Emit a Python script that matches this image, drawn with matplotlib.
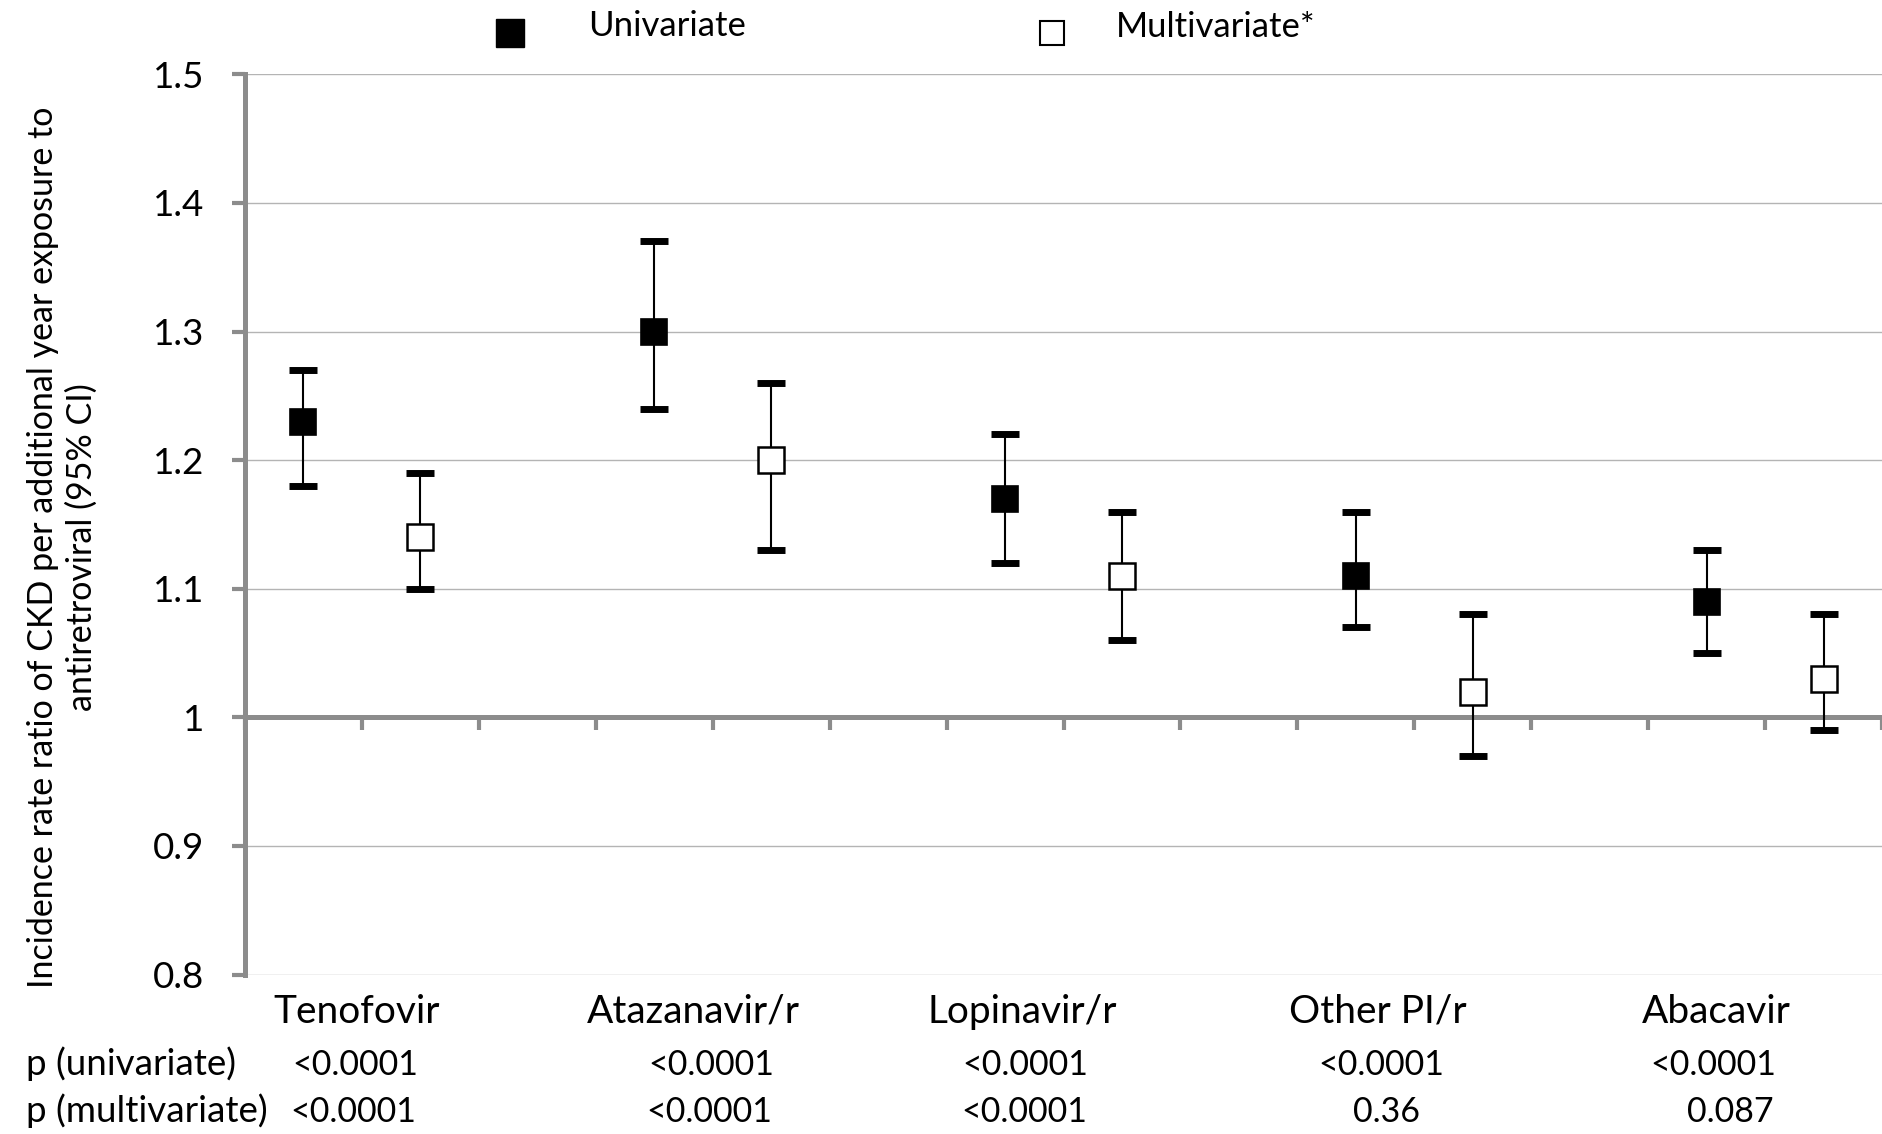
import numpy as np
import matplotlib
matplotlib.use("Agg")
import matplotlib.pyplot as plt
from matplotlib.lines import Line2D
import matplotlib.transforms as mtransforms

plt.rcParams['font.family'] = ['Lato', 'DejaVu Sans']

# ---------------- data ----------------
drugs = ["Tenofovir", "Atazanavir/r", "Lopinavir/r", "Other PI/r", "Abacavir"]
uni_irr = [1.23, 1.30, 1.17, 1.11, 1.09]
uni_lo = [1.18, 1.24, 1.12, 1.07, 1.05]
uni_hi = [1.27, 1.37, 1.22, 1.16, 1.13]
multi_irr = [1.14, 1.20, 1.11, 1.02, 1.03]
multi_lo = [1.10, 1.13, 1.06, 0.97, 0.99]
multi_hi = [1.19, 1.26, 1.16, 1.08, 1.08]
p_uni = ["<0.0001", "<0.0001", "<0.0001", "<0.0001", "<0.0001"]
p_multi = ["<0.0001", "<0.0001", "<0.0001", "0.36", "0.087"]
yticks = [0.8, 0.9, 1.0, 1.1, 1.2, 1.3, 1.4, 1.5]
ytick_labels = ["0.8", "0.9", "1", "1.1", "1.2", "1.3", "1.4", "1.5"]
series_names = ["Univariate", "Multivariate*"]
row_names = ["p (univariate)", "p (multivariate)"]
ylabel = "Incidence rate ratio of CKD per additional year exposure to\nantiretroviral (95% CI)"

# ---------------- layout ----------------
W, H = 1882, 1134
fig = plt.figure(figsize=(W / 100, H / 100), dpi=100)
ax = fig.add_axes([245 / W, 1 - 974.5 / H, 1 - 245 / W, (974.5 - 74.3) / H])

GRAY = "#8c8c8c"
GRID = "#b4b4b4"

slot = np.arange(len(drugs)) * 3
x_uni = slot
x_multi = slot + 1

uni = np.array(uni_irr); ul = np.array(uni_lo); uh = np.array(uni_hi)
mul = np.array(multi_irr); ml = np.array(multi_lo); mh = np.array(multi_hi)

bars = dict(fmt='none', ecolor='black', elinewidth=1.5, capsize=9.8, capthick=5,
            zorder=5, clip_on=False)
ax.errorbar(x_uni, uni, yerr=[uni - ul, uh - uni], **bars)
ax.errorbar(x_multi, mul, yerr=[mul - ml, mh - mul], **bars)
ax.plot(x_uni, uni, ls='none', marker='s', ms=19.3, mfc='black', mec='black',
        mew=1.2, zorder=6, clip_on=False)
ax.plot(x_multi, mul, ls='none', marker='s', ms=18.2, mfc='white', mec='black',
        mew=1.8, zorder=6, clip_on=False)

ax.set_xlim(-0.5, 13.5)
ax.set_ylim(0.8, 1.5)
ax.set_yticks(yticks)
ax.set_yticklabels(ytick_labels, fontsize=26.5)
ax.set_xticks(np.arange(-0.5, 14.0, 1.0))
ax.tick_params(axis='x', direction='out', length=9.5, width=3, color=GRAY,
               labelbottom=False)
ax.tick_params(axis='y', direction='out', length=9.5, width=3, color=GRAY, pad=20)

ax.yaxis.grid(True, color=GRID, lw=1.0)
ax.set_axisbelow(True)
for s in ['top', 'right']:
    ax.spines[s].set_visible(False)
ax.spines['left'].set_color(GRAY)
ax.spines['left'].set_linewidth(3.6)
ax.spines['bottom'].set_color(GRAY)
ax.spines['bottom'].set_linewidth(3.6)
ax.spines['bottom'].set_position(('data', 1.0))

# y label
fig.text(62 / W, 1 - 547 / H, ylabel, rotation=90, ha='center', va='center',
         fontsize=24.5, multialignment='center', linespacing=1.25)

# category labels and p-value rows (x in data units, y in figure units)
trans = mtransforms.blended_transform_factory(ax.transData, fig.transFigure)
cat_x = [0.455, 3.337, 6.15, 9.19, 12.08]
p1_x = [0.441, 3.49, 6.17, 9.22, 12.06]
p2_x = [0.421, 3.466, 6.16, 9.26, 12.20]
for xi, name in zip(cat_x, drugs):
    fig.text(xi, 1 - 1023 / H, name, transform=trans, ha='center', va='baseline',
             fontsize=28)
for xi, t in zip(p1_x, p_uni):
    fig.text(xi, 1 - 1075 / H, t, transform=trans, ha='center', va='baseline',
             fontsize=24.5)
for xi, t in zip(p2_x, p_multi):
    fig.text(xi, 1 - 1121.7 / H, t, transform=trans, ha='center', va='baseline',
             fontsize=24.5)
fig.text(26 / W, 1 - 1075 / H, row_names[0], ha='left', va='baseline', fontsize=26.5)
fig.text(26 / W, 1 - 1121.7 / H, row_names[1], ha='left', va='baseline', fontsize=26.5)

# legend (manual keys + labels)
fig.add_artist(Line2D([510 / W], [1 - 33 / H], transform=fig.transFigure, ls='none',
                      marker='s', ms=19.5, mfc='black', mec='black', mew=1.0))
fig.add_artist(Line2D([1052 / W], [1 - 33 / H], transform=fig.transFigure, ls='none',
                      marker='s', ms=17.0, mfc='white', mec='black', mew=1.5))
fig.text(588 / W, 1 - 36 / H, series_names[0], ha='left', va='baseline', fontsize=25)
fig.text(1116 / W, 1 - 37 / H, series_names[1], ha='left', va='baseline', fontsize=25)

fig.savefig("out.png", dpi=100)
